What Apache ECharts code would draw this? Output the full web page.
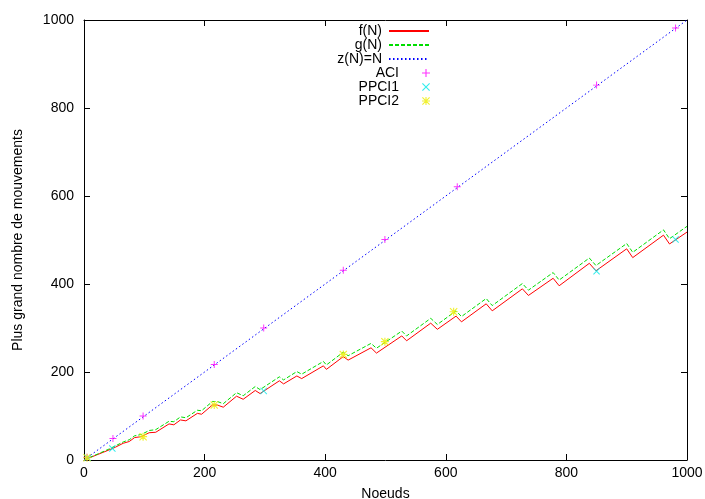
<!DOCTYPE html>
<html><head><meta charset="utf-8">
<script src="https://cdn.jsdelivr.net/npm/echarts@6/dist/echarts.min.js"></script>
<style>html,body{margin:0;padding:0;background:#fff}#c{width:705px;height:499px}</style>
</head><body><div id="c"></div>
<script>
// ---- data ----
const xRange = [0, 1000, 200];   // min, max, tick step
const yRange = [0, 1000, 200];
const xName = 'Noeuds';
const yName = 'Plus grand nombre de mouvements';

const fN = [[0,0],[20,11],[40,22],[52,29],[65,38],[75,42],[84,51],[95,53],[108,62],[119,63],[141,82],[149,80],[160,91],[169,89],[188,106],[195,104],[213,125],[221,125],[231,120],[253,145],[264,138],[284,158],[292,151],[324,180],[331,173],[353,191],[361,185],[397,214],[402,206],[430,235],[438,227],[476,255],[485,243],[527,282],[535,271],[575,311],[586,297],[617,327],[626,314],[667,355],[677,339],[727,389],[737,374],[778,413],[788,396],[838,447],[849,430],[900,480],[910,460],[961,511],[971,491],[1000,518]];
const gN = [[0,0],[20,12],[40,24],[52,32],[65,41],[75,46],[84,55],[95,58],[108,67],[119,69],[141,88],[149,87],[160,98],[169,96],[188,113],[195,112],[213,133],[221,133],[231,128],[253,153],[264,146],[284,167],[292,160],[324,189],[331,182],[353,201],[361,195],[397,224],[402,216],[430,245],[438,237],[476,265],[485,254],[527,293],[535,282],[575,322],[586,308],[617,339],[626,326],[667,367],[677,351],[727,401],[737,386],[778,426],[788,409],[838,459],[849,442],[900,492],[910,472],[961,523],[971,503],[1000,531]];
const zN = [[0,0],[1000,1000]];
const ACI = [[5,6],[48,49],[98,100],[216,217],[298,300],[430,431],[499,501],[619,621],[850,852],[981,982]];
const PPCI1 = [[6,5],[47,26],[298,157],[850,429],[981,501]];
const PPCI2 = [[5,5],[98,53],[216,125],[430,240],[499,269],[613,337]];

const names = ['f(N)','g(N)','z(N)=N','ACI','PPCI1','PPCI2'];
const colors = ['#ff0000','#00dd00','#0000ff','#ff00ff','#00e8e8','#eeee00'];

// ---- styling ----
const FONT = 'Liberation Sans, Arial, Helvetica, sans-serif';
const FS = 14;
const plusPath = 'path://M4.3,0H5.7V4.3H10V5.7H5.7V10H4.3V5.7H0V4.3H4.3Z';
const crossPath = 'path://M0,1L1,0L5,4L9,0L10,1L6,5L10,9L9,10L5,6L1,10L0,9L4,5Z';
const starPath = 'path://M4.3,0H5.7V4.3H10V5.7H5.7V10H4.3V5.7H0V4.3H4.3ZM0,1L1,0L5,4L9,0L10,1L6,5L10,9L9,10L5,6L1,10L0,9L4,5Z';

const chart = echarts.init(document.getElementById('c'), null, {renderer: 'canvas'});

function baseAxis(extra) {
  return Object.assign({
    type: 'value',
    axisLine: {show: true, onZero: false, lineStyle: {color: '#000', width: 1}},
    axisTick: {show: true, inside: true, length: 6, lineStyle: {color: '#000'}},
    splitLine: {show: false},
  }, extra);
}
const xr = {min: xRange[0], max: xRange[1], interval: xRange[2]};
const yr = {min: yRange[0], max: yRange[1], interval: yRange[2]};
const plainLabel = v => String(v);

const rowsY = [32, 46, 60, 74, 88, 102];
const legends = names.map((n, i) => {
  const lg = {
    data: [n],
    orient: 'vertical',
    align: 'right',
    right: 275,
    top: rowsY[i] - 8,
    padding: 0,
    itemGap: 0,
    itemWidth: i < 3 ? 40 : 8,
    itemHeight: i < 3 ? 14 : 8,
    selectedMode: false,
    textStyle: {fontFamily: FONT, fontSize: FS, color: '#000', padding: [0, i < 3 ? 2 : 18, 0, 0]},
  };
  if (i < 3) lg.itemStyle = {opacity: 0};
  return lg;
});

const lineCommon = {type: 'line', showSymbol: false, symbol: 'none', animation: false, silent: true, z: 2};
const scatterCommon = {type: 'scatter', animation: false, silent: true, symbolKeepAspect: true, z: 3};

chart.setOption({
  backgroundColor: '#fff',
  animation: false,
  grid: {left: 84, right: 18, top: 20, bottom: 39, show: false, containLabel: false, outerBoundsMode: 'none'},
  legend: legends,
  xAxis: [
    baseAxis(Object.assign({position: 'bottom', name: xName, nameLocation: 'middle', nameGap: 27,
      nameTextStyle: {fontFamily: FONT, fontSize: FS, color: '#000'},
      axisLabel: {fontFamily: FONT, fontSize: FS, color: '#000', margin: 6, formatter: plainLabel}}, xr)),
    baseAxis(Object.assign({position: 'top', axisLabel: {show: false}}, xr)),
  ],
  yAxis: [
    baseAxis(Object.assign({position: 'left', name: yName, nameLocation: 'middle', nameGap: 59,
      nameTextStyle: {fontFamily: FONT, fontSize: FS, color: '#000'},
      axisLabel: {fontFamily: FONT, fontSize: FS, color: '#000', margin: 10, formatter: plainLabel}}, yr)),
    baseAxis(Object.assign({position: 'right', axisLabel: {show: false}}, yr)),
  ],
  series: [
    Object.assign({name: names[0], data: fN, color: colors[0], lineStyle: {color: colors[0], width: 1}}, lineCommon),
    Object.assign({name: names[1], data: gN, color: colors[1], lineStyle: {color: colors[1], width: 1, type: [4, 2]}}, lineCommon),
    Object.assign({name: names[2], data: zN, color: colors[2], lineStyle: {color: colors[2], width: 1, type: [1.5, 2.5]}}, lineCommon),
    Object.assign({name: names[3], data: ACI, symbol: plusPath, symbolSize: 7, itemStyle: {color: colors[3]}}, scatterCommon),
    Object.assign({name: names[4], data: PPCI1, symbol: crossPath, symbolSize: 7, itemStyle: {color: colors[4]}}, scatterCommon),
    Object.assign({name: names[5], data: PPCI2, symbol: starPath, symbolSize: 8, itemStyle: {color: colors[5]}}, scatterCommon),
  ],
});
</script>
</body></html>
